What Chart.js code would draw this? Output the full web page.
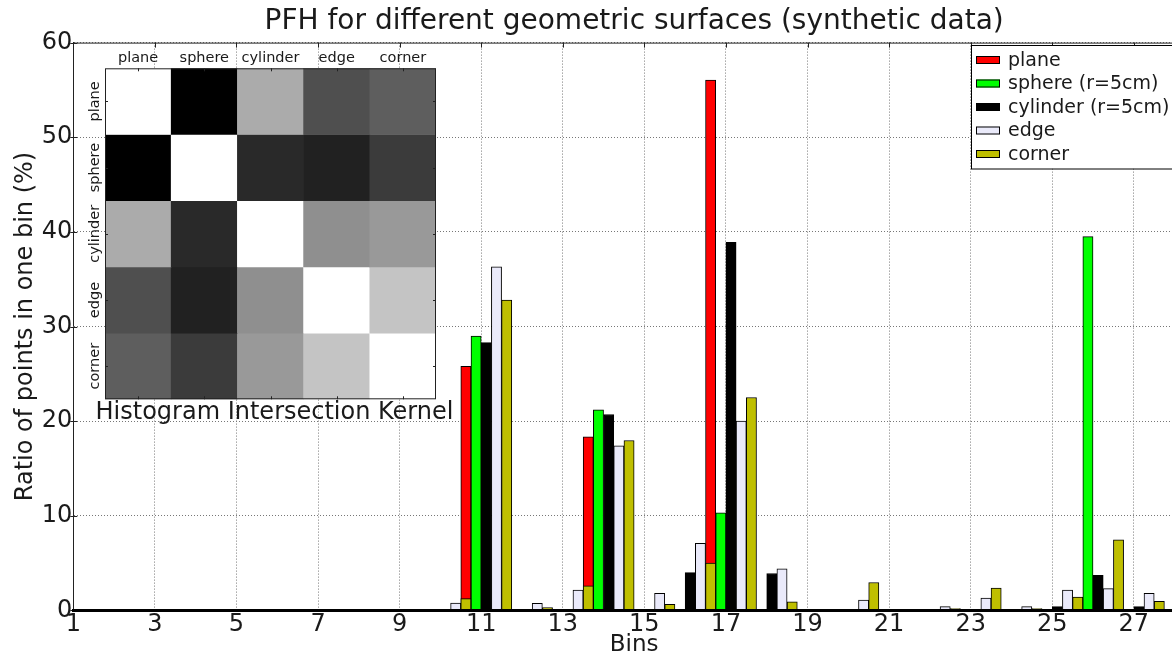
<!DOCTYPE html>
<html>
<head>
<meta charset="utf-8">
<title>PFH for different geometric surfaces</title>
<script src="https://cdn.jsdelivr.net/npm/chart.js@4.4.1/dist/chart.umd.min.js"></script>
<style>
  html, body { margin: 0; padding: 0; background: #fff; overflow: hidden; }
  #wrap { position: relative; width: 1210px; height: 657px; }
  #main { position: absolute; left: 0; top: 0; }
  #inset { position: absolute; left: 80px; top: 45px; }
</style>
</head>
<body>
<div id="wrap">
  <canvas id="main" width="1210" height="657"></canvas>
  <canvas id="inset" width="380" height="390"></canvas>
</div>
<script>
// PFH bins and the ratio of points (%) in each bin, one array per surface
const bins = [1, 2, 3, 4, 5, 6, 7, 8, 9, 10, 11, 12, 13, 14, 15, 16, 17, 18, 19, 20, 21, 22, 23, 24, 25, 26, 27];
const plane    = [0, 0, 0, 0, 0, 0, 0, 0, 0, 0, 25.8, 0, 0, 18.35, 0, 0, 56.05, 0, 0, 0, 0, 0, 0, 0, 0, 0, 0];
const sphere   = [0, 0, 0, 0, 0, 0, 0, 0, 0, 0, 29.0, 0, 0, 21.2, 0, 0, 10.3, 0, 0, 0, 0, 0, 0, 0, 0, 39.5, 0];
const cylinder = [0, 0, 0, 0, 0, 0, 0, 0, 0, 0, 28.3, 0, 0, 20.7, 0, 4.0, 38.9, 3.9, 0, 0, 0, 0, 0, 0, 0.4, 3.7, 0.4];
const edge     = [0, 0, 0, 0, 0, 0, 0, 0, 0, 0.78, 36.3, 0.75, 2.15, 17.4, 1.8, 7.1, 20.0, 4.4, 0, 1.1, 0, 0.4, 1.3, 0.4, 2.15, 2.3, 1.8];
const corner   = [0, 0, 0, 0, 0, 0, 0, 0, 0, 1.25, 32.8, 0.3, 2.6, 17.95, 0.65, 5.0, 22.5, 0.9, 0, 2.95, 0, 0.2, 2.35, 0.2, 1.4, 7.45, 0.95];

const xTicks = [1, 3, 5, 7, 9, 11, 13, 15, 17, 19, 21, 23, 25, 27];
const yTicks = [0, 10, 20, 30, 40, 50, 60];

// inset: histogram intersection kernel between the surfaces (1 = white)
const shapes = ['plane', 'sphere', 'cylinder', 'edge', 'corner'];
const kernel = [
    [1.00, 0.00, 0.67, 0.31, 0.37],
    [0.00, 1.00, 0.16, 0.13, 0.23],
    [0.67, 0.16, 1.00, 0.56, 0.60],
    [0.31, 0.13, 0.56, 1.00, 0.77],
    [0.37, 0.23, 0.60, 0.77, 1.00]
];

const series = [
    { label: 'plane', data: plane, color: '#ff0000' },
    { label: 'sphere (r=5cm)', data: sphere, color: '#00ff00' },
    { label: 'cylinder (r=5cm)', data: cylinder, color: '#000000' },
    { label: 'edge', data: edge, color: '#eaeafa' },
    { label: 'corner', data: corner, color: '#bfbf00' }
];

Chart.defaults.font.family = "'DejaVu Sans', sans-serif";
Chart.defaults.color = '#1a1a1a';

const textColor = '#1a1a1a';
const barWidth = 0.25;

// each bin holds five bars side by side, starting half a bin to the left
const datasets = series.map((s, i) => ({
    label: s.label,
    data: bins.map((b, k) => ({ x: b - 0.5 + (i + 0.5) * barWidth, y: s.data[k] })),
    backgroundColor: s.color,
    borderColor: '#000',
    borderWidth: 1,
    borderSkipped: false,
    order: series.length - i
}));

// matplotlib style frame with inward ticks
const frame = {
    id: 'frame',
    afterDatasetsDraw(chart) {
        const { ctx, chartArea: a, scales } = chart;
        ctx.save();
        ctx.strokeStyle = '#222';
        ctx.lineWidth = 1;
        ctx.beginPath();
        ctx.moveTo(a.left, a.top + 0.5);
        ctx.lineTo(a.right, a.top + 0.5);
        ctx.moveTo(a.right - 0.5, a.top);
        ctx.lineTo(a.right - 0.5, a.bottom);
        xTicks.forEach(v => {
            const px = Math.round(scales.x.getPixelForValue(v)) + 0.5;
            ctx.moveTo(px, a.top);
            ctx.lineTo(px, a.top + 5);
        });
        yTicks.forEach(v => {
            const py = Math.round(scales.y.getPixelForValue(v)) + 0.5;
            ctx.moveTo(a.left - 3, py);
            ctx.lineTo(a.left + 4, py);
        });
        ctx.stroke();
        ctx.restore();
    }
};

// legend box in the upper right corner of the axes
const legendBox = {
    id: 'legendBox',
    afterDraw(chart) {
        const { ctx, chartArea: a } = chart;
        const sets = chart.data.datasets;
        const right = a.right - 3;
        const left = right - 221;
        const top = 45;
        const rowH = 23.5;
        ctx.save();
        ctx.fillStyle = '#fff';
        ctx.strokeStyle = '#000';
        ctx.lineWidth = 1;
        ctx.fillRect(left, top, right - left, rowH * sets.length + 6);
        ctx.strokeRect(left + 0.5, top + 0.5, right - left, rowH * sets.length + 6);
        ctx.font = "19px 'DejaVu Sans'";
        ctx.textBaseline = 'middle';
        sets.forEach((d, i) => {
            const cy = top + 15 + i * rowH;
            ctx.fillStyle = d.backgroundColor;
            ctx.fillRect(left + 5, cy - 4, 24, 8);
            ctx.strokeRect(left + 5.5, cy - 3.5, 23, 7);
            ctx.fillStyle = textColor;
            ctx.fillText(d.label, left + 37, cy + 1);
        });
        ctx.restore();
    }
};

new Chart(document.getElementById('main'), {
    type: 'bar',
    data: { datasets: datasets },
    options: {
        responsive: false,
        animation: false,
        layout: { padding: { right: 15 } },
        datasets: {
            bar: { grouped: false, barPercentage: 1, categoryPercentage: 1 }
        },
        plugins: {
            legend: { display: false },
            tooltip: { enabled: false },
            title: {
                display: true,
                fullSize: false,
                text: 'PFH for different geometric surfaces (synthetic data)',
                color: textColor,
                font: { size: 28, weight: 'normal' },
                padding: { top: 5, bottom: 4 }
            }
        },
        scales: {
            x: {
                type: 'linear',
                min: 1,
                max: 28.5,
                offset: false,
                afterBuildTicks: s => { s.ticks = xTicks.map(v => ({ value: v })); },
                afterFit: s => { s.height = 46.6; },
                ticks: { color: textColor, font: { size: 24 }, padding: 0, maxRotation: 0 },
                grid: { offset: false, color: '#777', lineWidth: 1, drawTicks: false },
                border: { color: '#000', width: 3, dash: [1, 2], z: 1 },
                title: { display: true, text: 'Bins', color: textColor, font: { size: 23 }, padding: { top: 0, bottom: -2 } }
            },
            y: {
                min: 0,
                max: 60,
                afterBuildTicks: s => { s.ticks = yTicks.map(v => ({ value: v })); },
                afterFit: s => { s.width = 73.3; },
                ticks: { color: textColor, font: { size: 24 }, padding: 1 },
                grid: { color: '#777', lineWidth: 1, drawTicks: false },
                border: { color: '#222', width: 1, dash: [1, 2] },
                title: { display: true, text: 'Ratio of points in one bin (%)', color: textColor, font: { size: 24 }, padding: { top: 11, bottom: 0 } }
            }
        }
    },
    plugins: [frame, legendBox]
});

// inset heatmap: one stacked column per surface, one segment per row
function grey(v) {
    const g = Math.round(v * 255);
    return 'rgb(' + g + ',' + g + ',' + g + ')';
}

const insetDecor = {
    id: 'insetDecor',
    afterDraw(chart) {
        const { ctx, chartArea: a, scales } = chart;
        ctx.save();
        ctx.strokeStyle = '#222';
        ctx.lineWidth = 1;
        ctx.strokeRect(a.left + 0.5, a.top + 0.5, a.right - a.left - 1, a.bottom - a.top - 1);
        ctx.beginPath();
        shapes.forEach((s, i) => {
            const px = Math.round(scales.x.getPixelForValue(i)) + 0.5;
            ctx.moveTo(px, a.top); ctx.lineTo(px, a.top + 3);
            ctx.moveTo(px, a.bottom); ctx.lineTo(px, a.bottom - 3);
            const py = Math.round(scales.y.getPixelForValue(i + 0.5)) + 0.5;
            ctx.moveTo(a.left, py); ctx.lineTo(a.left + 3, py);
            ctx.moveTo(a.right, py); ctx.lineTo(a.right - 3, py);
        });
        ctx.stroke();
        ctx.fillStyle = textColor;
        ctx.textAlign = 'center';
        ctx.textBaseline = 'middle';
        // inset x label, drawn at natural width
        ctx.font = "24px 'DejaVu Sans'";
        ctx.fillText('Histogram Intersection Kernel', (a.left + a.right) / 2 + 4, a.bottom + 13);
        // row labels, rotated like matplotlib's vertical tick labels
        ctx.font = "14.5px 'DejaVu Sans'";
        shapes.forEach((s, i) => {
            ctx.save();
            ctx.translate(a.left - 10, scales.y.getPixelForValue(i + 0.5));
            ctx.rotate(-Math.PI / 2);
            ctx.fillText(s, 0, 0);
            ctx.restore();
        });
        ctx.restore();
    }
};

new Chart(document.getElementById('inset'), {
    type: 'bar',
    data: {
        labels: shapes,
        datasets: shapes.map((row, r) => ({
            label: row,
            data: shapes.map(() => 1),
            backgroundColor: kernel[r].map(grey),
            borderWidth: 0
        }))
    },
    options: {
        responsive: false,
        animation: false,
        layout: { padding: { right: 24, bottom: 35.7 } },
        datasets: { bar: { barPercentage: 1, categoryPercentage: 1 } },
        plugins: { legend: { display: false }, tooltip: { enabled: false } },
        scales: {
            x: {
                position: 'top',
                stacked: true,
                afterFit: s => { s.height = 23.3; },
                ticks: { color: textColor, font: { size: 14.5 }, padding: 1, maxRotation: 0 },
                grid: { display: false, drawTicks: false },
                border: { display: false }
            },
            y: {
                stacked: true,
                min: 0,
                max: 5,
                reverse: true,
                afterFit: s => { s.width = 25; },
                ticks: { display: false },
                grid: { display: false, drawTicks: false },
                border: { display: false }
            }
        }
    },
    plugins: [insetDecor]
});
</script>
</body>
</html>
